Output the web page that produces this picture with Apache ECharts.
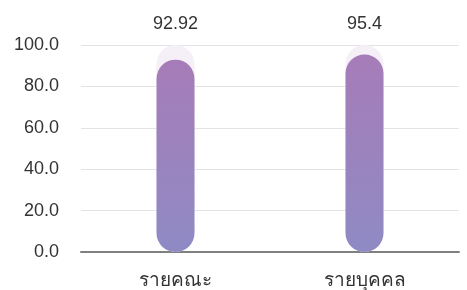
<!DOCTYPE html>
<html><head><meta charset="utf-8">
<script src="https://cdn.jsdelivr.net/npm/echarts@6/dist/echarts.min.js"></script>
<style>html,body{margin:0;padding:0;background:#fff}#c{width:467px;height:290px}</style>
</head><body><div id="c"></div>
<script>
const categories = ['รายคณะ', 'รายบุคคล'];
const values = [92.92, 95.4];
const maxValues = [100, 100];
const yTicks = { min: 0, max: 100, interval: 20 };

const chart = echarts.init(document.getElementById('c'));
chart.setOption({
  animation: false,
  grid: { left: 81, right: 8, top: 45, bottom: 38 },
  xAxis: {
    type: 'category', data: categories,
    axisLine: { lineStyle: { color: '#808080', width: 2 } },
    axisTick: { show: false },
    axisLabel: { color: '#333', fontSize: 19, margin: 19, fontFamily: 'sans-serif' }
  },
  yAxis: {
    type: 'value', min: yTicks.min, max: yTicks.max, interval: yTicks.interval,
    axisLine: { show: false }, axisTick: { show: false },
    splitLine: { lineStyle: { color: '#e3e3e3', width: 1 } },
    axisLabel: { color: '#333', fontSize: 18, margin: 22, fontFamily: 'Liberation Sans, sans-serif',
      formatter: v => v.toFixed(1) }
  },
  series: [
    {
      type: 'bar', data: maxValues, barWidth: 38, z: 1,
      itemStyle: { color: '#f5eff8', borderRadius: 19 },
      label: { show: true, position: 'top', distance: 12, color: '#333', fontSize: 18,
        fontFamily: 'Liberation Sans, sans-serif',
        formatter: p => String(values[p.dataIndex]) }
    },
    {
      type: 'bar', data: values, barWidth: 38, barGap: '-100%', z: 2,
      itemStyle: {
        borderRadius: 19,
        color: new echarts.graphic.LinearGradient(0, 0, 0, 1, [
          { offset: 0, color: '#a67cb8' },
          { offset: 1, color: '#8f8ac4' }
        ])
      }
    }
  ]
});
</script></body></html>
